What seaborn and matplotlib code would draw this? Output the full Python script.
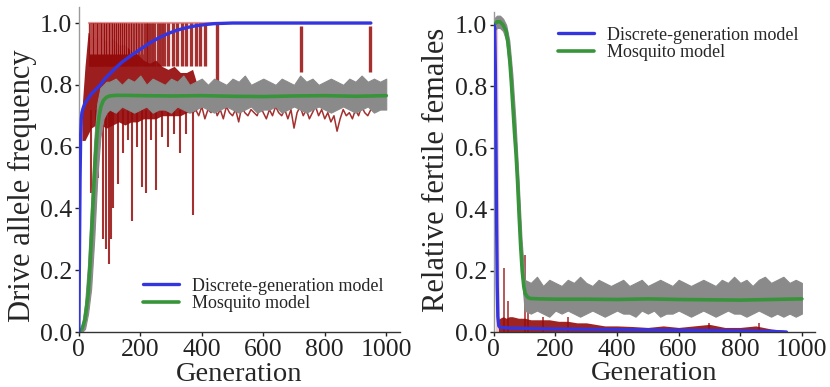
import matplotlib
matplotlib.use("Agg")
import matplotlib.pyplot as plt
import seaborn as sns
import numpy as np

# ---------------- data: left panel (drive allele frequency) ----------------
blue_l_gen = [0, 2, 4, 6, 8, 10, 14, 20, 30, 40, 55, 70, 85, 100, 120, 140, 170, 200,
              230, 260, 290, 320, 350, 380, 410, 440, 470, 500, 950]
blue_l_val = [0.0, 0.25, 0.5, 0.64, 0.69, 0.71, 0.725, 0.74, 0.755, 0.77, 0.785, 0.80,
              0.82, 0.835, 0.855, 0.873, 0.895, 0.915, 0.935, 0.952, 0.966, 0.977, 0.985,
              0.991, 0.995, 0.998, 0.999, 1.0, 1.0]

green_l_gen = [0, 10, 20, 30, 36, 42, 48, 54, 60, 66, 72, 80, 90, 100, 120, 150, 200, 300,
               400, 500, 600, 700, 800, 900, 1000]
green_l_val = [0.0, 0.01, 0.04, 0.12, 0.21, 0.33, 0.46, 0.57, 0.65, 0.70, 0.73, 0.75, 0.76,
               0.764, 0.766, 0.766, 0.765, 0.764, 0.765, 0.763, 0.762, 0.764, 0.765, 0.763, 0.765]

gray_l_gen = [0, 10, 20, 30, 40, 50, 60, 70, 80, 90] + list(range(100, 1001, 20))
gray_l_hi = [0.0, 0.02, 0.09, 0.22, 0.42, 0.62, 0.74, 0.79, 0.80, 0.81,
             0.81, 0.82, 0.80, 0.82, 0.81, 0.83, 0.80, 0.82, 0.81, 0.80,
             0.82, 0.81, 0.83, 0.80, 0.81, 0.82, 0.80, 0.82, 0.81, 0.80,
             0.82, 0.81, 0.83, 0.80, 0.81, 0.82, 0.81, 0.80, 0.82, 0.81,
             0.80, 0.83, 0.81, 0.82, 0.80, 0.81, 0.82, 0.81, 0.80, 0.82,
             0.81, 0.83, 0.81, 0.82, 0.81, 0.82]
gray_l_lo = [0.0, 0.0, 0.01, 0.06, 0.14, 0.30, 0.50, 0.63, 0.69, 0.71,
             0.72, 0.71, 0.73, 0.72, 0.71, 0.72, 0.73, 0.71, 0.72, 0.72,
             0.71, 0.73, 0.72, 0.71, 0.72, 0.73, 0.72, 0.71, 0.72, 0.73,
             0.72, 0.71, 0.72, 0.73, 0.71, 0.72, 0.72, 0.73, 0.71, 0.72,
             0.73, 0.72, 0.71, 0.72, 0.73, 0.72, 0.71, 0.72, 0.73, 0.72,
             0.71, 0.72, 0.73, 0.71, 0.72, 0.72]

red_l_gen = [10, 20, 30, 40, 55, 70, 90, 110, 130, 150, 170, 190, 210, 230, 250, 270, 290,
             310, 330, 350, 370, 385]
red_l_hi = [0.72, 0.86, 0.97, 0.96, 0.95, 0.96, 0.94, 0.95, 0.93, 0.93, 0.91, 0.90, 0.88,
            0.87, 0.88, 0.86, 0.85, 0.86, 0.84, 0.84, 0.85, 0.80]
red_l_lo = [0.62, 0.62, 0.64, 0.66, 0.67, 0.67, 0.66, 0.67, 0.68, 0.67, 0.68, 0.68, 0.69,
            0.69, 0.69, 0.70, 0.70, 0.70, 0.70, 0.71, 0.71, 0.72]

red_l_up_gen = [36, 40, 44, 48, 52, 57, 61, 66, 70, 75, 80, 85, 90, 95, 100, 106, 112, 118,
                124, 130, 137, 144, 151, 158, 166, 174, 182, 190, 199, 208, 217, 226, 236,
                246, 256, 266, 276, 290, 305, 320, 335, 350, 365, 380, 395, 410,
                448, 722, 948]
red_l_up_base = [0.86] * 46 + [0.80, 0.84, 0.84]
red_l_up_top = [1.0] * 47 + [0.99, 0.99]

red_l_dn_gen = [40, 55, 63, 78, 88, 98, 104, 112, 128, 145, 160, 172, 190, 206, 218, 235,
                251, 270, 290, 310, 330, 350, 372]
red_l_dn_val = [0.45, 0.55, 0.50, 0.30, 0.27, 0.22, 0.30, 0.40, 0.48, 0.58, 0.62, 0.36,
                0.60, 0.47, 0.45, 0.62, 0.46, 0.63, 0.60, 0.64, 0.58, 0.64, 0.38]

red_l_fix_gen = [34, 455]
red_l_fix_val = [1.0, 1.0]

red_l_tail_gen = list(range(380, 951, 10))
red_l_tail_val = [0.72, 0.70, 0.73, 0.69, 0.72, 0.71, 0.74, 0.70, 0.72, 0.69,
                  0.73, 0.71, 0.70, 0.72, 0.68, 0.73, 0.71, 0.70, 0.72, 0.71,
                  0.70, 0.73, 0.71, 0.69, 0.72, 0.70, 0.73, 0.71, 0.70, 0.72,
                  0.69, 0.72, 0.66, 0.71, 0.73, 0.70, 0.72, 0.69, 0.71, 0.73,
                  0.70, 0.72, 0.69, 0.71, 0.68, 0.70, 0.65, 0.69, 0.72, 0.70,
                  0.71, 0.69, 0.72, 0.70, 0.73, 0.71, 0.70, 0.72]

# ---------------- data: right panel (relative fertile females) ----------------
blue_r_gen = [0, 3, 5, 7, 9, 11, 13, 16, 20, 50, 100, 200, 300, 400, 500, 600, 700, 800, 900, 950]
blue_r_val = [1.0, 0.99, 0.85, 0.60, 0.35, 0.15, 0.05, 0.02, 0.015, 0.013, 0.012, 0.010,
              0.009, 0.008, 0.007, 0.006, 0.005, 0.004, 0.002, 0.0]

green_r_gen = [0, 10, 20, 30, 40, 46, 52, 57, 62, 67, 72, 77, 82, 87, 92, 97, 102, 110, 120,
               150, 200, 300, 400, 500, 600, 700, 800, 900, 1000]
green_r_val = [1.0, 1.01, 1.01, 1.0, 0.98, 0.94, 0.88, 0.81, 0.73, 0.65, 0.58, 0.49, 0.38,
               0.28, 0.20, 0.15, 0.125, 0.113, 0.109, 0.108, 0.107, 0.107, 0.106, 0.108,
               0.106, 0.105, 0.104, 0.106, 0.108]

gray_r_gen = [0, 10, 20, 30, 40, 50, 60, 70, 80, 90] + list(range(100, 1001, 20))
gray_r_hi = [1.02, 1.03, 1.03, 1.02, 1.0, 0.95, 0.84, 0.69, 0.50, 0.30,
             0.17, 0.16, 0.18, 0.15, 0.17, 0.16, 0.15, 0.17, 0.16, 0.18,
             0.16, 0.15, 0.17, 0.16, 0.15, 0.16, 0.17, 0.15, 0.16, 0.17,
             0.15, 0.16, 0.17, 0.16, 0.15, 0.17, 0.16, 0.15, 0.16, 0.17,
             0.16, 0.15, 0.17, 0.16, 0.18, 0.16, 0.17, 0.15, 0.17, 0.18,
             0.16, 0.17, 0.18, 0.16, 0.17, 0.16]
gray_r_lo = [0.98, 0.99, 0.99, 0.98, 0.95, 0.86, 0.72, 0.56, 0.36, 0.19,
             0.07, 0.06, 0.07, 0.06, 0.05, 0.07, 0.06, 0.07, 0.06, 0.05,
             0.06, 0.07, 0.06, 0.05, 0.06, 0.07, 0.06, 0.06, 0.05, 0.07,
             0.06, 0.07, 0.05, 0.06, 0.06, 0.07, 0.06, 0.05, 0.06, 0.07,
             0.06, 0.05, 0.06, 0.07, 0.06, 0.06, 0.05, 0.06, 0.07, 0.06,
             0.05, 0.06, 0.05, 0.06, 0.05, 0.06]

red_r_gen = [15, 20, 30, 40, 50, 60, 80, 100, 120, 150, 180, 210, 240, 270, 300, 330, 360,
             400, 450, 500, 550, 600, 650, 700, 750, 800, 850, 900, 950]
red_r_hi = [0.04, 0.045, 0.05, 0.045, 0.05, 0.05, 0.045, 0.045, 0.04, 0.04, 0.04, 0.035,
            0.035, 0.03, 0.03, 0.025, 0.02, 0.02, 0.018, 0.015, 0.02, 0.015, 0.02, 0.025,
            0.015, 0.015, 0.02, 0.01, 0.005]
red_r_sp_gen = [33, 45, 100, 110, 160, 240, 700, 860]
red_r_sp_val = [0.21, 0.10, 0.25, 0.07, 0.05, 0.05, 0.03, 0.03]
red_r_drop_gen = [5, 12, 18]
red_r_drop_val = [1.0, 1.0, 0.03]

x_ticks = [0, 200, 400, 600, 800, 1000]
y_ticks = [0.0, 0.2, 0.4, 0.6, 0.8, 1.0]
legend_labels = ["Discrete-generation model", "Mosquito model"]

# ---------------- styling ----------------
sns.set_theme(style="ticks")
plt.rcParams["font.family"] = ["Liberation Serif", "DejaVu Serif"]

BLUE = "#3535e0"
GREEN = "#38943a"
DARKRED = "#940b0b"
PINK = "#e08a8a"
GRAY = "#8a8a8a"

fig = plt.figure(figsize=(8.3, 3.87), dpi=100)
axL = fig.add_axes([0.095, 0.142, 0.387, 0.84])
axR = fig.add_axes([0.595, 0.142, 0.3867, 0.827])

# ----- left panel -----
axL.plot(red_l_fix_gen, red_l_fix_val, color=PINK, lw=1.6, alpha=0.9, zorder=1.0)
axL.fill_between(red_l_gen, red_l_lo, red_l_hi, color=DARKRED, alpha=0.92, lw=0, zorder=1)
axL.vlines(red_l_up_gen, red_l_up_base, red_l_up_top, color=DARKRED, lw=2.4, alpha=0.85, zorder=1.1)
axL.vlines(red_l_up_gen[:30], [0.9] * 30, red_l_up_top[:30], color=PINK, lw=0.6, alpha=0.6, zorder=1.2)
axL.vlines(red_l_dn_gen, red_l_dn_val, [0.72] * len(red_l_dn_gen), color=DARKRED, lw=1.5, alpha=0.85, zorder=1.1)
axL.plot(red_l_tail_gen, red_l_tail_val, color=DARKRED, lw=1.1, alpha=0.85, zorder=1.1)
axL.fill_between(gray_l_gen, gray_l_lo, gray_l_hi, color=GRAY, lw=0.8, edgecolor=GRAY, zorder=2)
sns.lineplot(x=green_l_gen, y=green_l_val, ax=axL, color=GREEN, lw=2.6, zorder=3,
             label=legend_labels[1], estimator=None, sort=False)
sns.lineplot(x=blue_l_gen, y=blue_l_val, ax=axL, color=BLUE, lw=2.4, zorder=4,
             label=legend_labels[0], estimator=None, sort=False)
axL.set_ylim(0, 1.052)
axL.set_xlim(0, 1045)
axL.set_ylabel("Drive allele frequency", fontsize=22)
axL.yaxis.set_label_coords(-0.13, 0.45)

# ----- right panel -----
axR.fill_between(red_r_drop_gen, 0, red_r_drop_val, color=PINK, alpha=0.45, lw=0, zorder=1)
axR.fill_between(red_r_gen, 0, red_r_hi, color=DARKRED, alpha=0.9, lw=0, zorder=1)
axR.vlines(red_r_sp_gen, 0, red_r_sp_val, color=DARKRED, lw=1.2, alpha=0.8, zorder=1.1)
axR.fill_between(gray_r_gen, gray_r_lo, gray_r_hi, color=GRAY, lw=0.8, edgecolor=GRAY, zorder=2)
sns.lineplot(x=blue_r_gen, y=blue_r_val, ax=axR, color=BLUE, lw=2.4, zorder=4,
             label=legend_labels[0], estimator=None, sort=False)
sns.lineplot(x=green_r_gen, y=green_r_val, ax=axR, color=GREEN, lw=2.6, zorder=3,
             label=legend_labels[1], estimator=None, sort=False)
axR.set_ylim(0, 1.042)
axR.set_xlim(0, 1042)
axR.set_ylabel("Relative fertile females", fontsize=22)
axR.yaxis.set_label_coords(-0.135, 0.506)

for ax, ly in ((axL, 0.114), (axR, 0.9)):
    ax.set_xticks(x_ticks)
    ax.set_yticks(y_ticks)
    ax.set_yticklabels([f"{v:.1f}" for v in y_ticks])
    ax.tick_params(labelsize=18.5, length=3, width=1, pad=2, colors="#222222")
    ax.set_xlabel("Generation", fontsize=20.5)
    ax.xaxis.set_label_coords(0.5, -0.092)
    for s in ("top", "right"):
        ax.spines[s].set_visible(False)
    ax.spines["left"].set_color("#9a9a9a")
    ax.spines["bottom"].set_color("#333333")
    ax.spines["left"].set_linewidth(1.0)
    ax.spines["bottom"].set_linewidth(1.0)
    h, l = ax.get_legend_handles_labels()
    order = [l.index(legend_labels[0]), l.index(legend_labels[1])]
    ax.legend([h[i] for i in order], [l[i] for i in order], loc="center left",
              bbox_to_anchor=(0.199, ly), frameon=False, fontsize=13, handlelength=2.0,
              handletextpad=0.75, labelspacing=0.05, borderpad=0, borderaxespad=0)

fig.savefig("out.png", dpi=100)
